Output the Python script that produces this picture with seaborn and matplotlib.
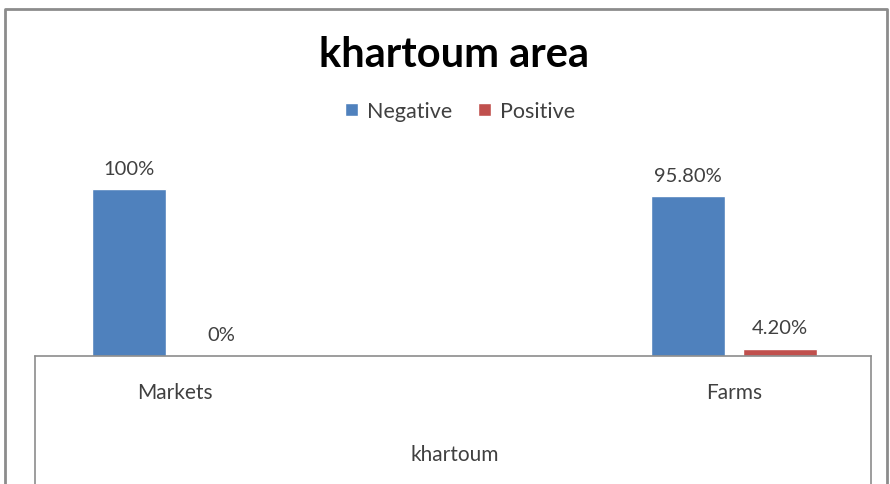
import matplotlib
matplotlib.use("Agg")
import matplotlib.pyplot as plt
from matplotlib.lines import Line2D
from matplotlib.patches import Patch
import pandas as pd
import seaborn as sns

# data
sites = ["Markets", "Farms"]
results = ["Negative", "Positive"]
negative = [1.00, 0.958]
positive = [0.00, 0.042]
group_label = "khartoum"
title = "khartoum area"
colors = {"Negative": "#4F81BD", "Positive": "#C0504D"}

df = pd.DataFrame({
    "site": sites * 2,
    "result": ["Negative"] * len(sites) + ["Positive"] * len(sites),
    "share": negative + positive,
})

sns.set_theme(style="white")
plt.rcParams["font.family"] = ["Lato", "DejaVu Sans"]

W, H = 890, 485
fig = plt.figure(figsize=(W / 100, H / 100), dpi=100)
ax = fig.add_axes([35 / W, (H - 357) / H, (871 - 35) / W, 200 / H])

sns.barplot(data=df, x="site", y="share", hue="result", order=sites,
            hue_order=results, palette=colors, width=0.329, gap=0.196,
            saturation=1, legend=False, ax=ax)

ax.set_xlim(-0.2504, 1.245)
ax.set_ylim(0, 1.2)

def fmt(v):
    return f"{v:.0%}" if round(v * 100, 6) % 1 == 0 else f"{v:.2%}"

for cont in ax.containers:
    ax.bar_label(cont, labels=[fmt(b.get_height()) for b in cont],
                 padding=9, fontsize=14.5, color="#404040")

for s in ["top", "left", "right"]:
    ax.spines[s].set_visible(False)
ax.spines["bottom"].set_color("#8c8c8c")
ax.spines["bottom"].set_linewidth(1.2)
ax.set_yticks([])
ax.set_xlabel("")
ax.set_ylabel("")
ax.tick_params(axis="x", length=0, pad=19, labelsize=15, labelcolor="#404040")

# category table box below the axis
for x in (35, 871):
    fig.add_artist(Line2D([x / W, x / W], [0, (H - 357) / H],
                          color="#8c8c8c", lw=1.2))
fig.text(455 / W, 1 - 455 / H, group_label, ha="center", va="center",
         fontsize=15, color="#404040")

# outer chart border
fig.add_artist(Line2D([5 / W, 5 / W, 887 / W, 887 / W],
                      [0, 1 - 10 / H, 1 - 10 / H, 0], color="#8c8c8c", lw=2))

fig.text(454 / W, 1 - 55 / H, title, ha="center", va="center",
         fontsize=30, fontweight="bold", color="black")

handles = [Patch(facecolor=colors[r], label=r) for r in results]
fig.legend(handles=handles, loc="center", bbox_to_anchor=(460 / W, 1 - 112 / H),
           ncol=2, frameon=False, fontsize=15.5, handlelength=0.6, handleheight=0.6,
           handletextpad=0.4, columnspacing=1.2, labelcolor="#404040")

fig.savefig("out.png", dpi=100)
